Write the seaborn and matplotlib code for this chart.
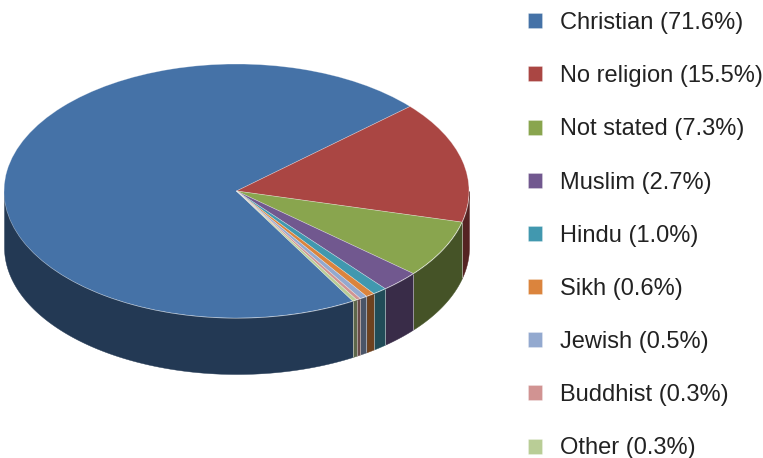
import numpy as np
import matplotlib
matplotlib.use("Agg")
import matplotlib.pyplot as plt
import matplotlib.colors as mcolors
import seaborn as sns

categories = ["Christian", "No religion", "Not stated", "Muslim", "Hindu",
              "Sikh", "Jewish", "Buddhist", "Other"]
values = [71.6, 15.5, 7.3, 2.7, 1.0, 0.6, 0.5, 0.3, 0.3]
colors = ["#4572A7", "#AA4643", "#89A54E", "#71588F", "#4198AF",
          "#DB843D", "#93A9CF", "#D19392", "#B9CD96"]

sns.set_theme(style="white")
plt.rcParams['font.family'] = ['Liberation Sans', 'DejaVu Sans']

W, H = 763, 458
fig = plt.figure(figsize=(W / 100, H / 100), dpi=100)

# pie geometry in pixels (used only for axes placement)
cx, cy, a, b, depth_px = 236.5, 191.0, 232.5, 127.0, 56.0
d = depth_px / b
ax = fig.add_axes([(cx - a) / W, (H - (cy + b + depth_px)) / H,
                   2 * a / W, (2 * b + depth_px) / H])

startangle = 300.0
vals = np.array(values, dtype=float)
frac = vals / vals.sum()
cum = np.concatenate([[0], np.cumsum(frac)])

# side (depth) of the 3D pie: front half only, darker colours
for i, c in enumerate(colors):
    t1 = startangle - cum[i] * 360.0
    t2 = startangle - cum[i + 1] * 360.0
    lo, hi = t2, t1
    dark = tuple(np.array(mcolors.to_rgb(c)) * 0.5)
    for k in range(-2, 3):
        s0 = max(lo, 180.0 + 360 * k)
        s1 = min(hi, 360.0 + 360 * k)
        if s1 > s0:
            th = np.radians(np.linspace(s0, s1, 200))
            x = np.cos(th)
            ytop = np.sin(th)
            order = np.argsort(x)
            ax.fill_between(x[order], ytop[order] - d, ytop[order],
                            color=dark, linewidth=0.3, edgecolor=dark, zorder=1)
    # seam at slice boundary on the front
    tr = np.radians(t1)
    if np.sin(tr) < 0:
        ax.vlines(np.cos(tr), np.sin(tr) - d, np.sin(tr),
                  colors=(1, 1, 1, 0.45), linewidth=0.7, zorder=2)

wedges, _ = ax.pie(values, colors=colors, startangle=startangle,
                   counterclock=False, radius=1, center=(0, 0),
                   wedgeprops=dict(linewidth=0.5, edgecolor=(1, 1, 1, 0.35)))
for w in wedges:
    w.set_zorder(3)

ax.set_xlim(-1, 1)
ax.set_ylim(-1 - d, 1)
ax.set_aspect('auto')
ax.axis('off')

labels = [f"{n} ({v:.1f}%)" for n, v in zip(categories, values)]
leg = fig.legend(wedges, labels, loc='upper left',
                 bbox_to_anchor=(528 / W, 1 - 12 / H),
                 frameon=False, fontsize=17, handlelength=0.6, handleheight=0.6,
                 handletextpad=0.74, labelspacing=1.32, borderaxespad=0,
                 borderpad=0)
for t in leg.get_texts():
    t.set_color('#222222')

fig.savefig("out.png", dpi=100)
